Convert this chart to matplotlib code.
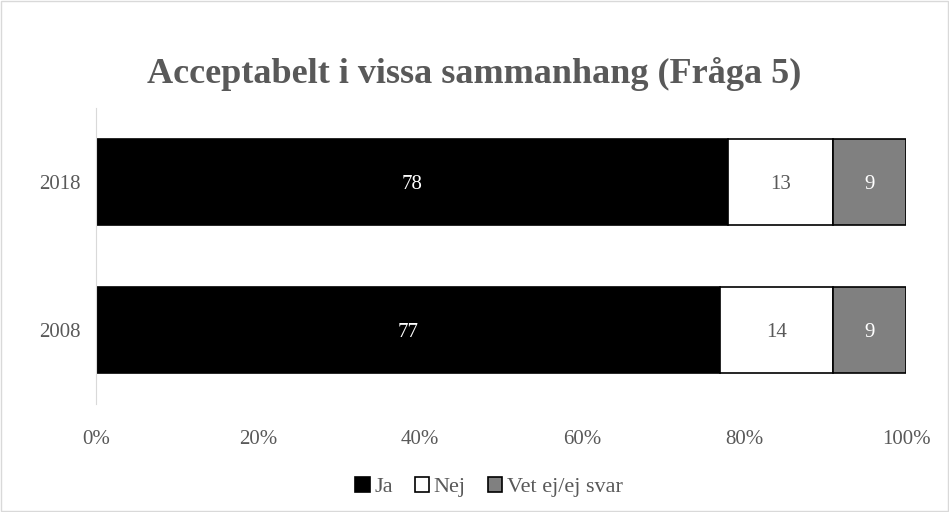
import matplotlib.pyplot as plt
from matplotlib.patches import Rectangle

plt.rcParams['font.family'] = ['Liberation Serif', 'DejaVu Serif']

years = ['2008', '2018']
ja = [77, 78]
nej = [14, 13]
vet = [9, 9]
series_names = ['Ja', 'Nej', 'Vet ej/ej svar']
x_ticks = [0, 20, 40, 60, 80, 100]

grey_text = '#595959'

fig = plt.figure(figsize=(9.49, 5.12), dpi=100)
ax = fig.add_axes([96 / 949, 1 - 404 / 512, 810 / 949, 296 / 512])

h = 0.575
b1 = ax.barh(years, ja, height=h, color='black', edgecolor='black', linewidth=1.2, label=series_names[0])
b2 = ax.barh(years, nej, left=ja, height=h, color='white', edgecolor='black', linewidth=1.2, label=series_names[1])
left3 = [a + b for a, b in zip(ja, nej)]
b3 = ax.barh(years, vet, left=left3, height=h, color='#808080', edgecolor='black', linewidth=1.2, label=series_names[2])

for bars, c in [(b1, 'white'), (b2, grey_text), (b3, 'white')]:
    texts = ax.bar_label(bars, label_type='center', color=c, fontsize=15)
    for t in texts:
        t.set_va('center_baseline')

ax.set_xlim(0, 100)
ax.set_ylim(-0.5, 1.5)
ax.set_xticks(x_ticks)
ax.set_xticklabels([f'{t}%' for t in x_ticks])
ax.tick_params(axis='both', length=0, labelsize=15, labelcolor=grey_text)
ax.tick_params(axis='x', pad=19)
ax.tick_params(axis='y', pad=11)
for s in ['top', 'right', 'bottom']:
    ax.spines[s].set_visible(False)
ax.spines['left'].set_color('#d9d9d9')

fig.text(0.5, 1 - 74 / 512, 'Acceptabelt i vissa sammanhang (Fråga 5)', ha='center', va='center',
         fontsize=26, fontweight='bold', color=grey_text)

leg = fig.legend(handles=[b1, b2, b3], labels=series_names, loc='center', bbox_to_anchor=(489 / 949, 1 - 487 / 512),
                 ncol=3, frameon=False, fontsize=16, handlelength=0.65, handleheight=0.65,
                 handletextpad=0.2, columnspacing=1.0, labelcolor=grey_text)

fig.patches.append(Rectangle((0.001, 0.001), 0.998, 0.997, transform=fig.transFigure,
                             fill=False, edgecolor='#d9d9d9', linewidth=1))

fig.savefig('out.png', dpi=100)
